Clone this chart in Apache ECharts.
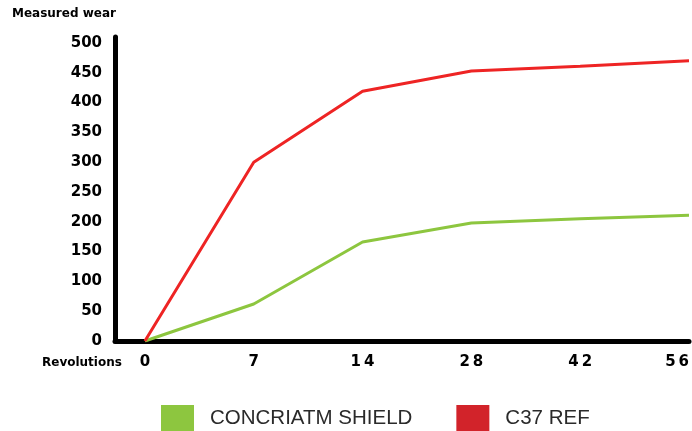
<!DOCTYPE html>
<html>
<head>
<meta charset="utf-8">
<script src="https://cdn.jsdelivr.net/npm/echarts@6/dist/echarts.min.js"></script>
<style>html,body{margin:0;padding:0;background:#fff}#c{width:692px;height:431px}</style>
</head>
<body>
<div id="c"></div>
<script>
var categories = ['0', '7', '14', '28', '42', '56'];
var shieldValues = [0, 62, 166, 198, 205, 211];
var refValues = [0, 300, 419, 453, 461, 470];
var seriesNames = ['CONCRIATM SHIELD', 'C37 REF'];
var yTicks = [0, 50, 100, 150, 200, 250, 300, 350, 400, 450, 500];

function toPairs(vals) { return vals.map(function (v, i) { return [i, v]; }); }

var chart = echarts.init(document.getElementById('c'));
chart.setOption({
  animation: false,
  title: [
    { text: 'Measured wear', left: 12, top: 8, padding: 0, textStyle: { fontFamily: 'DejaVu Sans', fontWeight: 'bold', fontSize: 12, color: '#000' } },
    { text: 'Revolutions', left: 42, top: 357, padding: 0, textStyle: { fontFamily: 'DejaVu Sans', fontWeight: 'bold', fontSize: 12, color: '#000' } }
  ],
  grid: { left: 115, right: 2, top: 37, bottom: 90 },
  legend: {
    left: 161, top: 405, padding: 0, itemWidth: 33, itemHeight: 26, itemGap: 44, icon: 'rect',
    textStyle: { fontFamily: 'Liberation Sans', fontSize: 20.5, color: '#2a2a2a', padding: [0, 0, 0, 11] },
    data: [
      { name: seriesNames[0], itemStyle: { color: '#8dc63f' } },
      { name: seriesNames[1], itemStyle: { color: '#d2232a' } }
    ]
  },
  xAxis: {
    type: 'value', min: -0.275, max: 5,
    axisLine: { show: true, onZero: false, lineStyle: { color: '#000', width: 5 } },
    axisTick: { show: false },
    splitLine: { show: false },
    axisLabel: {
      customValues: categories.map(function (c, i) { return i; }),
      formatter: function (v) { var c = categories[Math.round(v)]; return c ? c.split('').join('\u2009') : ''; },
      fontFamily: 'DejaVu Sans', fontWeight: 'bold', fontSize: 15, color: '#000', margin: 14,
      alignMaxLabel: 'right'
    }
  },
  yAxis: {
    type: 'value', min: 0, max: 510,
    axisLine: { show: true, onZero: false, lineStyle: { color: '#000', width: 5 } },
    axisTick: { show: false },
    splitLine: { show: false },
    axisLabel: {
      customValues: yTicks,
      fontFamily: 'DejaVu Sans', fontWeight: 'bold', fontSize: 15, color: '#000', margin: 13
    }
  },
  series: [
    { name: seriesNames[0], type: 'line', data: toPairs(shieldValues), showSymbol: false, symbol: 'none',
      lineStyle: { color: '#8dc63f', width: 3 }, itemStyle: { color: '#8dc63f' } },
    { name: seriesNames[1], type: 'line', data: toPairs(refValues), showSymbol: false, symbol: 'none',
      lineStyle: { color: '#ee2424', width: 3 }, itemStyle: { color: '#d2232a' } }
  ]
});
</script>
</body>
</html>
